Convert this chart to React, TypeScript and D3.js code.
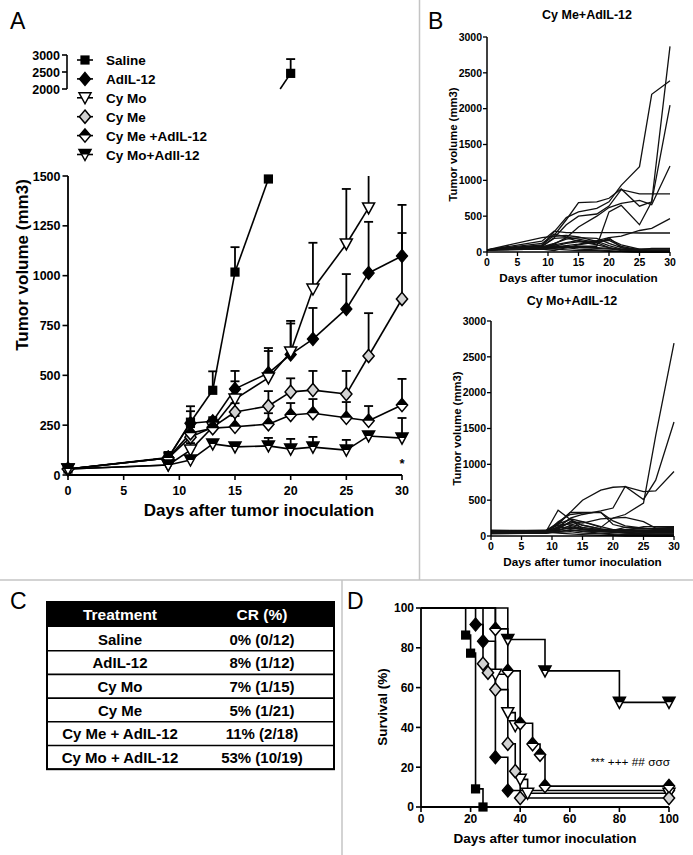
import React from "react";
import * as d3 from "d3";

const FONT = "'Liberation Sans', Arial, Helvetica, sans-serif";

// ---------------- Panel A data ----------------
const daysA = [0, 9, 11, 13, 15, 18, 20, 22, 25, 27, 30];
const salineMean = [30, 85, 265, 425, 1018, 1485, 2460];
const salineErr = [50, 115, 345, 520, 1143, null, 2880];
const adilMean = [30, 88, 260, 270, 432, 511, 605, 682, 833, 1013, 1099];
const adilErr = [45, 115, 320, 290, 522, 637, 760, 838, 1008, 1270, 1355];
const cyMoMean = [30, 50, 125, 241, 381, 487, 617, 933, 1159, 1340];
const cyMoErr = [45, 60, 160, 280, 470, 622, 773, 1165, 1435, 1600];
const cyMeMean = [30, 85, 190, 240, 316, 346, 417, 426, 406, 597, 883];
const cyMeErr = [45, 110, 240, 275, 360, 421, 485, 522, 522, 812, 1214];
const cyMeAdMean = [30, 85, 210, 235, 242, 255, 301, 310, 287, 272, 351];
const cyMeAdErr = [45, 110, 250, 280, 296, 310, 361, 381, 366, 346, 482];
const cyMoAdMean = [30, 50, 75, 156, 141, 146, 130, 140, 125, 196, 185];
const cyMoAdErr = [45, 55, 90, 170, 160, 186, 181, 191, 176, 210, 286];

const legendLabels = ["Saline", "AdIL-12", "Cy Mo", "Cy Me", "Cy Me +AdIL-12", "Cy Mo+AdIl-12"];
const markerTypes = ["square", "diamond", "tri", "diamondGrey", "diamondHalf", "triHalf"];
const ticksALow = [0, 250, 500, 750, 1000, 1250, 1500];
const ticksAHigh = [2000, 2500, 3000];
const ticksAX = [0, 5, 10, 15, 20, 25, 30];

// ---------------- Panel B data ----------------
const daysB = [0, 9, 11, 13, 15, 18, 20, 22, 25, 27, 30];
const cyMeAdIndividual = [
  [30, 90, 280, 480, 560, 610, 700, 930, 1190, 2200, 2390],
  [30, 100, 230, 450, 690, 700, 750, 880, 640, 700, 2870],
  [30, 80, 200, 380, 500, 530, 640, 870, 810, 810, 810],
  [30, 60, 60, 60, 80, 80, 560, 650, 380, 700, 2050],
  [30, 60, 110, 200, 350, 500, 620, 680, 720, 660, 1200],
  [30, 60, 80, 120, 140, 160, 200, 220, 300, 330, 465],
  [30, 150, 290, 270, 270, 270, 270, 270, 265, 265, 265],
  [30, 200, 220, 230, 210, 150, 90, 40, 20, 20, 20],
  [30, 120, 250, 210, 180, 130, 60, 20, 10, 10, 10],
  [30, 60, 100, 130, 160, 110, 200, 60, 20, 10, 0],
  [30, 40, 20, 60, 100, 140, 180, 100, 40, 40, 40],
  [30, 50, 70, 90, 110, 150, 160, 80, 30, 0, 0],
  [30, 40, 50, 60, 70, 60, 50, 40, 40, 40, 40],
  [30, 60, 90, 60, 40, 30, 20, 10, 0, 0, 0],
  [30, 80, 190, 200, 150, 100, 60, 30, 10, 0, 0],
  [30, 40, 60, 80, 60, 50, 40, 30, 30, 50, 50],
  [30, 50, 40, 30, 20, 20, 10, 10, 0, 0, 0],
  [30, 70, 120, 180, 200, 190, 120, 60, 30, 20, 20],
];
const cyMoAdIndividual = [
  [70, 80, 180, 330, 500, 640, 680, 690, 620, 630, 900],
  [70, 70, 120, 250, 300, 350, 390, 690, 510, 780, 1590],
  [60, 60, 100, 200, 180, 240, 250, 300, 460, 1400, 2690],
  [70, 60, 160, 330, 330, 330, 210, 140, 110, 100, 100],
  [60, 60, 360, 230, 100, 80, 80, 90, 100, 110, 120],
  [50, 50, 200, 300, 320, 330, 160, 120, 100, 100, 100],
  [40, 40, 130, 240, 200, 120, 250, 260, 200, 110, 110],
  [80, 70, 150, 170, 120, 90, 80, 80, 80, 80, 80],
  [50, 60, 80, 120, 90, 60, 50, 50, 60, 70, 70],
  [40, 40, 60, 90, 60, 40, 30, 20, 20, 20, 20],
  [60, 50, 100, 200, 150, 100, 60, 40, 30, 30, 30],
  [70, 70, 170, 230, 150, 100, 90, 80, 130, 130, 130],
  [30, 40, 50, 60, 40, 30, 20, 10, 10, 0, 0],
  [50, 50, 120, 180, 200, 130, 90, 70, 60, 60, 60],
  [60, 60, 90, 110, 90, 70, 60, 50, 40, 40, 40],
  [70, 60, 40, 30, 20, 10, 10, 0, 0, 0, 0],
  [40, 40, 70, 150, 100, 80, 70, 60, 50, 50, 50],
  [60, 60, 110, 130, 100, 90, 80, 120, 110, 90, 90],
  [50, 50, 60, 80, 70, 60, 50, 40, 30, 20, 10],
];
const ticksBY = [0, 500, 1000, 1500, 2000, 2500, 3000];
const ticksBX = [0, 5, 10, 15, 20, 25, 30];

// ---------------- Panel C data ----------------
const tableTreatments = ["Saline", "AdIL-12", "Cy Mo", "Cy Me", "Cy Me + AdIL-12", "Cy Mo + AdIL-12"];
const tableCR = ["0% (0/12)", "8% (1/12)", "7% (1/15)", "5% (1/21)", "11% (2/18)", "53% (10/19)"];

// ---------------- Panel D data ----------------
const survSalineDays = [18, 20, 22, 25];
const survSalineVals = [86.4, 77.3, 9.1, 0];
const survAdilDays = [22, 25, 30, 35];
const survAdilVals = [91.7, 83.3, 25, 8.3];
const survCyMoDays = [30, 35, 38, 40, 43];
const survCyMoVals = [66.7, 47.4, 40.8, 13.9, 6.9];
const survCyMeDays = [25, 27, 30, 35, 38, 40];
const survCyMeVals = [72, 67.5, 59, 31.8, 18, 4.5];
const survCyMeAdDays = [30, 35, 40, 45, 48, 50];
const survCyMeAdVals = [89.5, 68.4, 42.1, 31.6, 26.3, 10.5];
const survCyMoAdDays = [35, 50, 80];
const survCyMoAdVals = [84.2, 68.4, 52.6];
const ticksDY = [0, 20, 40, 60, 80, 100];
const ticksDX = [0, 20, 40, 60, 80, 100];

// ---------------- Marker ----------------
function Marker({ type, x, y, s = 1 }: { type: string; x: number; y: number; s?: number }) {
  const w = 5.6 * s, h = 6.6 * s;
  const dia = `M${x},${y - h}L${x + w},${y}L${x},${y + h}L${x - w},${y}Z`;
  const tw = 6 * s, tt = 5 * s, tb = 6 * s;
  const tri = `M${x - tw},${y - tt}L${x + tw},${y - tt}L${x},${y + tb}Z`;
  if (type === "square") {
    const a = 4.6 * s;
    return <rect x={x - a} y={y - a} width={2 * a} height={2 * a} fill="#000" />;
  }
  if (type === "diamond") return <path d={dia} fill="#000" stroke="#000" strokeWidth={1.2} />;
  if (type === "diamondGrey") return <path d={dia} fill="#d2d2d2" stroke="#000" strokeWidth={1.5} />;
  if (type === "diamondHalf")
    return (
      <g>
        <path d={dia} fill="#fff" stroke="#000" strokeWidth={1.5} />
        <path d={`M${x - w},${y}L${x},${y - h}L${x + w},${y}Z`} fill="#000" />
      </g>
    );
  if (type === "tri") return <path d={tri} fill="#fff" stroke="#000" strokeWidth={1.5} />;
  const hw = tw * tb / (tb + tt);
  return (
    <g>
      <path d={tri} fill="#fff" stroke="#000" strokeWidth={1.5} />
      <path d={`M${x - tw},${y - tt}L${x + tw},${y - tt}L${x + hw},${y}L${x - hw},${y}Z`} fill="#000" />
    </g>
  );
}

// ---------------- Panel A ----------------
const xA = d3.scaleLinear().domain([0, 30]).range([68, 402]);
const yLow = d3.scaleLinear().domain([0, 1500]).range([475, 176]);
const yHigh = d3.scaleLinear().domain([2000, 3000]).range([89, 55]);

function splitSeg(x0: number, v0: number, x1: number, v1: number) {
  const parts: [number, number][][] = [];
  const ranges: [number, number, any][] = [
    [0, 1500, yLow],
    [2000, 3000, yHigh],
  ];
  for (const [lo, hi, ys] of ranges) {
    let t0 = 0, t1 = 1;
    if (v1 !== v0) {
      const ta = (lo - v0) / (v1 - v0), tb = (hi - v0) / (v1 - v0);
      t0 = Math.max(0, Math.min(ta, tb));
      t1 = Math.min(1, Math.max(ta, tb));
    } else if (v0 < lo || v0 > hi) continue;
    if (t1 > t0)
      parts.push([
        [x0 + (x1 - x0) * t0, ys(v0 + (v1 - v0) * t0)],
        [x0 + (x1 - x0) * t1, ys(v0 + (v1 - v0) * t1)],
      ]);
  }
  return parts;
}
const yAny = (v: number) => (v > 1750 ? yHigh(v) : yLow(v));

function PanelA() {
  const series = [
    { mean: salineMean, err: salineErr },
    { mean: adilMean, err: adilErr },
    { mean: cyMoMean, err: cyMoErr },
    { mean: cyMeMean, err: cyMeErr },
    { mean: cyMeAdMean, err: cyMeAdErr },
    { mean: cyMoAdMean, err: cyMoAdErr },
  ].map((s, i) => ({ ...s, type: markerTypes[i], label: legendLabels[i] }));
  const line = d3.line();
  const lines: any[] = [];
  const errs: any[] = [];
  const marks: any[] = [];
  series.forEach((s, si) => {
    for (let i = 0; i + 1 < s.mean.length; i++) {
      splitSeg(xA(daysA[i]), s.mean[i], xA(daysA[i + 1]), s.mean[i + 1]).forEach((p, k) =>
        lines.push(<path key={`l${si}-${i}-${k}`} d={line(p) || ""} fill="none" stroke="#000" strokeWidth={1.6} />)
      );
    }
    s.mean.forEach((m, i) => {
      const e = s.err[i];
      const x = xA(daysA[i]);
      if (e != null && e > m) {
        const y0 = yAny(m);
        if (m <= 1500 && e > 1500) {
          errs.push(<line key={`e${si}-${i}`} x1={x} x2={x} y1={y0} y2={yLow(1500)} stroke="#000" strokeWidth={1.8} />);
        } else {
          const y1 = yAny(e);
          errs.push(
            <g key={`e${si}-${i}`}>
              <line x1={x} x2={x} y1={y0} y2={y1} stroke="#000" strokeWidth={1.8} />
              <line x1={x - 4.5} x2={x + 4.5} y1={y1} y2={y1} stroke="#000" strokeWidth={1.8} />
            </g>
          );
        }
      }
      marks.push(<Marker key={`m${si}-${i}`} type={s.type} x={x} y={yAny(m)} />);
    });
  });
  return (
    <g>
      <text x={10} y={29} fontSize={23}>A</text>
      <line x1={67} x2={67} y1={yHigh(3000)} y2={yHigh(2000)} stroke="#000" strokeWidth={1.6} />
      {ticksAHigh.map((t) => (
        <g key={`th${t}`}>
          <line x1={62} x2={67} y1={yHigh(t)} y2={yHigh(t)} stroke="#000" strokeWidth={1.6} />
          <text x={60} y={yHigh(t) + 4.5} fontSize={12.5} fontWeight="bold" textAnchor="end">{t}</text>
        </g>
      ))}
      <line x1={68} x2={68} y1={yLow(1500)} y2={yLow(0)} stroke="#000" strokeWidth={1.8} />
      {ticksALow.map((t) => (
        <g key={`tl${t}`}>
          <line x1={62.5} x2={68} y1={yLow(t)} y2={yLow(t)} stroke="#000" strokeWidth={1.6} />
          <text x={60.5} y={yLow(t) + 4.5} fontSize={12.5} fontWeight="bold" textAnchor="end">{t}</text>
        </g>
      ))}
      <line x1={xA(0)} x2={xA(30)} y1={yLow(0)} y2={yLow(0)} stroke="#000" strokeWidth={1.8} />
      {ticksAX.map((t) => (
        <g key={`tx${t}`}>
          <line x1={xA(t)} x2={xA(t)} y1={yLow(0)} y2={yLow(0) + 5} stroke="#000" strokeWidth={1.6} />
          <text x={xA(t)} y={495} fontSize={12.5} fontWeight="bold" textAnchor="middle">{t}</text>
        </g>
      ))}
      <text x={259} y={516} fontSize={17} fontWeight="bold" textAnchor="middle">Days after tumor inoculation</text>
      <text transform="translate(28,265) rotate(-90)" fontSize={17} fontWeight="bold" textAnchor="middle">Tumor volume (mm3)</text>
      {lines}
      {errs}
      {marks}
      <text x={xA(30)} y={468} fontSize={13} fontWeight="bold" textAnchor="middle">*</text>
      {series.map((s, i) => {
        const cy = 60 + i * 18.9;
        return (
          <g key={`lg${i}`}>
            <line x1={77} x2={93} y1={cy} y2={cy} stroke="#000" strokeWidth={1.6} />
            <Marker type={s.type} x={85} y={cy} />
            <text x={106} y={cy + 5} fontSize={13.5} fontWeight="bold">{s.label}</text>
          </g>
        );
      })}
    </g>
  );
}

// ---------------- Panel B ----------------
function PanelB({ data, title, titleX, titleY, xr, yr, labelX }: any) {
  const x = d3.scaleLinear().domain([0, 30]).range(xr);
  const y = d3.scaleLinear().domain([0, 3000]).range(yr);
  const line = d3.line<number>().x((_, i) => x(daysB[i])).y((v) => y(v));
  return (
    <g>
      <text x={titleX} y={titleY} fontSize={12.5} fontWeight="bold" textAnchor="middle">{title}</text>
      {data.map((d: number[], i: number) => (
        <path key={i} d={line(d) || ""} fill="none" stroke="#111" strokeWidth={1.3} />
      ))}
      <line x1={xr[0]} x2={xr[0]} y1={yr[0]} y2={yr[1]} stroke="#000" strokeWidth={1.5} />
      <line x1={xr[0]} x2={xr[1]} y1={yr[0]} y2={yr[0]} stroke="#000" strokeWidth={1.5} />
      {ticksBY.map((t) => (
        <g key={`y${t}`}>
          <line x1={xr[0] - 4} x2={xr[0]} y1={y(t)} y2={y(t)} stroke="#000" strokeWidth={1.3} />
          <text x={xr[0] - 5} y={y(t) + 3.8} fontSize={10.5} fontWeight="bold" textAnchor="end">{t}</text>
        </g>
      ))}
      {ticksBX.map((t) => (
        <g key={`x${t}`}>
          <line x1={x(t)} x2={x(t)} y1={yr[0]} y2={yr[0] + 4} stroke="#000" strokeWidth={1.3} />
          <text x={x(t)} y={yr[0] + 13.5} fontSize={10.5} fontWeight="bold" textAnchor="middle">{t}</text>
        </g>
      ))}
      <text x={(xr[0] + xr[1]) / 2} y={yr[0] + 29.5} fontSize={11.7} fontWeight="bold" textAnchor="middle">Days after tumor inoculation</text>
      <text transform={`translate(${labelX},${(yr[0] + yr[1]) / 2}) rotate(-90)`} fontSize={11.3} fontWeight="bold" textAnchor="middle">Tumor volume (mm3)</text>
    </g>
  );
}

// ---------------- Panel C ----------------
function PanelC() {
  const left = 47, right = 334, top = 602, headH = 25, rowH = 23.7;
  const c1 = 120, c2 = 262;
  return (
    <g>
      <text x={10} y={609} fontSize={23}>C</text>
      <rect x={left} y={top} width={right - left} height={headH} fill="#000" />
      <text x={c1} y={top + 18} fontSize={15.5} fontWeight="bold" fill="#fff" textAnchor="middle">Treatment</text>
      <text x={c2} y={top + 18} fontSize={15.5} fontWeight="bold" fill="#fff" textAnchor="middle">CR (%)</text>
      {tableTreatments.map((t, i) => {
        const y0 = top + headH + i * rowH;
        return (
          <g key={t}>
            <text x={c1} y={y0 + 17.5} fontSize={15} fontWeight="bold" textAnchor="middle">{t}</text>
            <text x={c2} y={y0 + 17.5} fontSize={15} fontWeight="bold" textAnchor="middle">{tableCR[i]}</text>
            <line x1={left} x2={right} y1={y0 + rowH} y2={y0 + rowH} stroke="#000" strokeWidth={1.6} />
          </g>
        );
      })}
      <rect x={left} y={top} width={right - left} height={headH + rowH * tableTreatments.length} fill="none" stroke="#000" strokeWidth={2} />
    </g>
  );
}

// ---------------- Panel D ----------------
const xD = d3.scaleLinear().domain([0, 100]).range([421, 669]);
const yD = d3.scaleLinear().domain([0, 100]).range([807, 608]);

function PanelD() {
  const groups = [
    { days: survSalineDays, vals: survSalineVals, type: "square" },
    { days: survAdilDays, vals: survAdilVals, type: "diamond" },
    { days: survCyMoDays, vals: survCyMoVals, type: "tri" },
    { days: survCyMeDays, vals: survCyMeVals, type: "diamondGrey" },
    { days: survCyMeAdDays, vals: survCyMeAdVals, type: "diamondHalf" },
    { days: survCyMoAdDays, vals: survCyMoAdVals, type: "triHalf" },
  ];
  const paths = groups.map((g) => {
    let d = `M${xD(0)},${yD(100)}`;
    let prev = 100;
    g.days.forEach((day, i) => {
      d += `H${xD(day)}V${yD(g.vals[i])}`;
      prev = g.vals[i];
    });
    if (prev > 0) d += `H${xD(100)}`;
    return d;
  });
  return (
    <g>
      <text x={347} y={609} fontSize={23}>D</text>
      {paths.map((d, i) => (
        <path key={i} d={d} fill="none" stroke="#000" strokeWidth={1.6} />
      ))}
      <line x1={xD(0)} x2={xD(0)} y1={yD(0)} y2={yD(100)} stroke="#000" strokeWidth={1.8} />
      <line x1={xD(0)} x2={xD(100)} y1={yD(0)} y2={yD(0)} stroke="#000" strokeWidth={1.8} />
      {ticksDY.map((t) => (
        <g key={`y${t}`}>
          <line x1={xD(0) - 5} x2={xD(0)} y1={yD(t)} y2={yD(t)} stroke="#000" strokeWidth={1.6} />
          <text x={xD(0) - 7} y={yD(t) + 4.3} fontSize={12} fontWeight="bold" textAnchor="end">{t}</text>
        </g>
      ))}
      {ticksDX.map((t) => (
        <g key={`x${t}`}>
          <line x1={xD(t)} x2={xD(t)} y1={yD(0)} y2={yD(0) + 5} stroke="#000" strokeWidth={1.6} />
          <text x={xD(t)} y={823} fontSize={12} fontWeight="bold" textAnchor="middle">{t}</text>
        </g>
      ))}
      {groups.map((g, gi) =>
        g.days.map((day, i) => <Marker key={`m${gi}-${i}`} type={g.type} x={xD(day)} y={yD(g.vals[i])} />)
      )}
      {groups
        .filter((g) => g.vals[g.vals.length - 1] > 0)
        .map((g, gi) => (
          <Marker key={`end${gi}`} type={g.type} x={xD(100)} y={yD(g.vals[g.vals.length - 1])} />
        ))}
      <text x={670} y={766} fontSize={11.8} textAnchor="end">*** +++ ## σσσ</text>
      <text x={545} y={843} fontSize={13.5} fontWeight="bold" textAnchor="middle">Days after tumor inoculation</text>
      <text transform="translate(387,707) rotate(-90)" fontSize={13.5} fontWeight="bold" textAnchor="middle">Survival (%)</text>
    </g>
  );
}

export default function App() {
  return (
    <svg width={693} height={855} style={{ position: "absolute", left: 0, top: 0 }} fontFamily={FONT}>
      <rect width={693} height={855} fill="#fff" />
      <line x1={419.5} x2={419.5} y1={0} y2={580} stroke="#c4c4c4" strokeWidth={1.5} />
      <line x1={0} x2={693} y1={580} y2={580} stroke="#c4c4c4" strokeWidth={1.5} />
      <line x1={342} x2={342} y1={580} y2={855} stroke="#c4c4c4" strokeWidth={1.5} />
      <PanelA />
      <text x={428} y={29} fontSize={23}>B</text>
      <PanelB data={cyMeAdIndividual} title="Cy Me+AdIL-12" titleX={587} titleY={19} xr={[487, 670]} yr={[252, 37]} labelX={457} />
      <PanelB data={cyMoAdIndividual} title="Cy Mo+AdIL-12" titleX={572} titleY={305} xr={[491, 674]} yr={[536, 321]} labelX={461} />
      <PanelC />
      <PanelD />
    </svg>
  );
}
